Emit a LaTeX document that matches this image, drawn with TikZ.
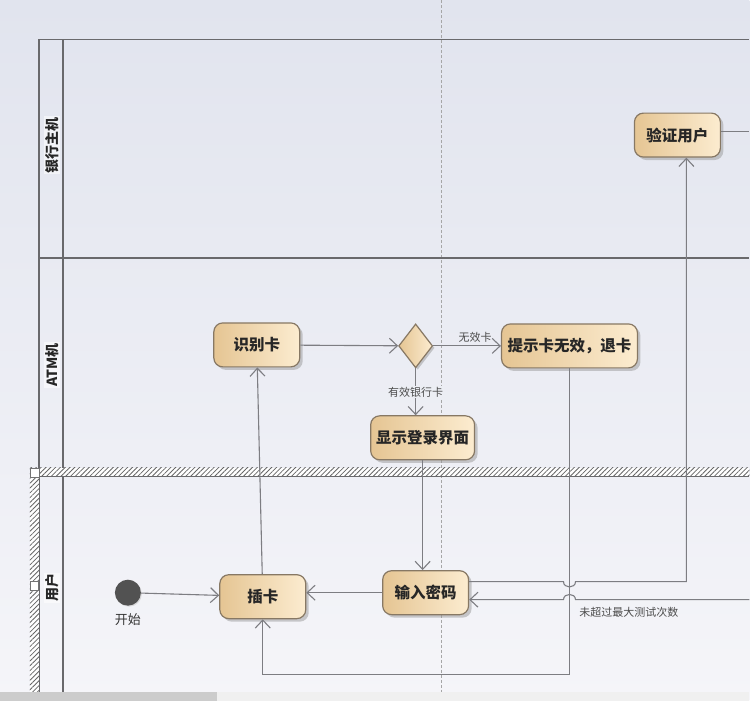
\documentclass[tikz,border=0pt]{standalone}
\usepackage{fontspec}
\usetikzlibrary{shapes.geometric,arrows.meta,shadows,patterns.meta}
\newfontfamily\cjk{Noto Sans CJK SC}
\definecolor{bgtop}{RGB}{225,228,238}
\definecolor{bgbot}{RGB}{245,245,249}
\definecolor{lanegray}{RGB}{105,105,108}
\definecolor{flowgray}{RGB}{125,125,130}
\definecolor{actborder}{RGB}{135,120,100}
\definecolor{acttop}{RGB}{252,236,208}
\definecolor{actbot}{RGB}{229,197,147}

\begin{document}
\begin{tikzpicture}[x=1pt,y=-1pt,
  act/.style={draw=actborder,line width=1.2pt,rounded corners=9pt,left color=actbot,right color=acttop,
    minimum width=86pt,minimum height=44pt,inner xsep=4pt,text=black!85,
    font=\cjk\bfseries\fontsize{15.5}{18}\selectfont,
    drop shadow={shadow xshift=3pt,shadow yshift=-3pt,fill=black!40,opacity=.5}},
  choice/.style={diamond,draw=actborder,line width=1.2pt,left color=actbot,right color=acttop,
    minimum width=34pt,minimum height=44pt,inner sep=0pt,
    drop shadow={shadow xshift=2pt,shadow yshift=-2pt,fill=black!40,opacity=.5}},
  flow/.style={draw=flowgray,line width=1.1pt,-{Straight Barb[length=8pt,width=15pt]}},
  lbl/.style={font=\cjk\fontsize{11}{13}\selectfont,text=black!70},
  lane/.style={draw=lanegray,line width=1.3pt},
  hatch/.style={pattern={Lines[angle=45,distance=3.4pt,line width=.8pt]},pattern color=black!60},
  lanename/.style={rotate=90,font=\cjk\bfseries\fontsize{14}{16}\selectfont,text=black!85,
    fill=white,fill opacity=.55,text opacity=1,inner sep=1pt}]

\fill[top color=bgtop,bottom color=bgbot] (0,0) rectangle (750,701);
\draw[black!35,dash pattern=on 3pt off 2pt] (442,0) -- (442,692);

\draw[lane] (39,39) -- (750,39);
\draw[lane] (39,39) -- (39,692);
\draw[lane] (63,39) -- (63,692);
\draw[lane] (39,258) -- (750,258);
\fill[white] (30,468) rectangle (750,477);
\fill[hatch] (30,468) rectangle (750,477);
\fill[white] (30,477) rectangle (39,692);
\fill[hatch] (30,477) rectangle (39,692);
\draw[lane] (39,477) -- (750,477);
\filldraw[fill=white,draw=black!55] (30,468) rectangle (39,477);
\filldraw[fill=white,draw=black!55] (30,582) rectangle (38,591);

\fill[black!20] (0,692) rectangle (217,701);
\fill[black!6] (217,692) rectangle (750,701);

\node[lanename] (bank) at (52,145) {银行主机};
\node[lanename] (atm) at (52,365) {ATM机};
\node[lanename] (user) at (52,588) {用户};

\node[act] (yanzheng) at (678,135) {验证用户};
\node[act] (shibie) at (257,345) {识别卡};
\node[choice] (check) at (416,346) {};
\node[act,minimum width=136pt] (tishi) at (570,346) {提示卡无效，退卡};
\node[act,minimum width=104pt] (xianshi) at (423,438) {显示登录界面};
\node[act] (chaka) at (263,597) {插卡};
\node[act] (shuru) at (426,593) {输入密码};
\node[circle,fill=black!68,minimum size=26pt,inner sep=0pt,
  label={[lbl,font=\cjk\fontsize{13}{15}\selectfont,text=black!80,label distance=4pt]below:开始},
  drop shadow={shadow xshift=1pt,shadow yshift=-1pt,fill=black!25,opacity=.5}] (start) at (128,593) {};

\coordinate (bot) at (0,675);
\coordinate (retry) at (750,600);
\coordinate (out) at (750,131);

\draw[flow] (start) -- (chaka);
\draw[flow] (chaka) -- (shibie);
\draw[flow] (shibie) -- (check);
\draw[flow] (check) -- node[lbl,above,pos=.62] {无效卡} (tishi);
\draw[flow] (check.south) -- node[lbl,fill={rgb,255:red,236;green,238;blue,244},inner sep=1pt] {有效银行卡} (check.south |- xianshi.north);
\draw[flow] (xianshi.south) -- (xianshi.south |- shuru.north);
\draw[flow] (shuru.west) -- (shuru.west -| chaka.east);
\draw[flow] (tishi.south) -- (tishi.south |- bot) -| (chaka.south);
\draw[flow] ([yshift=11pt]shuru.east) -- ([xshift=-6pt,yshift=11pt]tishi.south |- shuru.east)
  .. controls +(0,7) and +(0,7) .. ([xshift=6pt,yshift=11pt]tishi.south |- shuru.east)
  -| ([xshift=9pt]yanzheng.south);
\draw[flow] (retry) -- ([xshift=6pt,yshift=-7pt]tishi.south |- shuru.east)
  node[lbl,anchor=north west,yshift=-4pt] {未超过最大测试次数}
  .. controls +(0,-7) and +(0,-7) .. ([xshift=-6pt,yshift=-7pt]tishi.south |- shuru.east)
  -- ([yshift=-7pt]shuru.east);
\draw[flowgray,line width=1.1pt] ([yshift=4pt]yanzheng.east) -- (out);
\end{tikzpicture}
\end{document}
